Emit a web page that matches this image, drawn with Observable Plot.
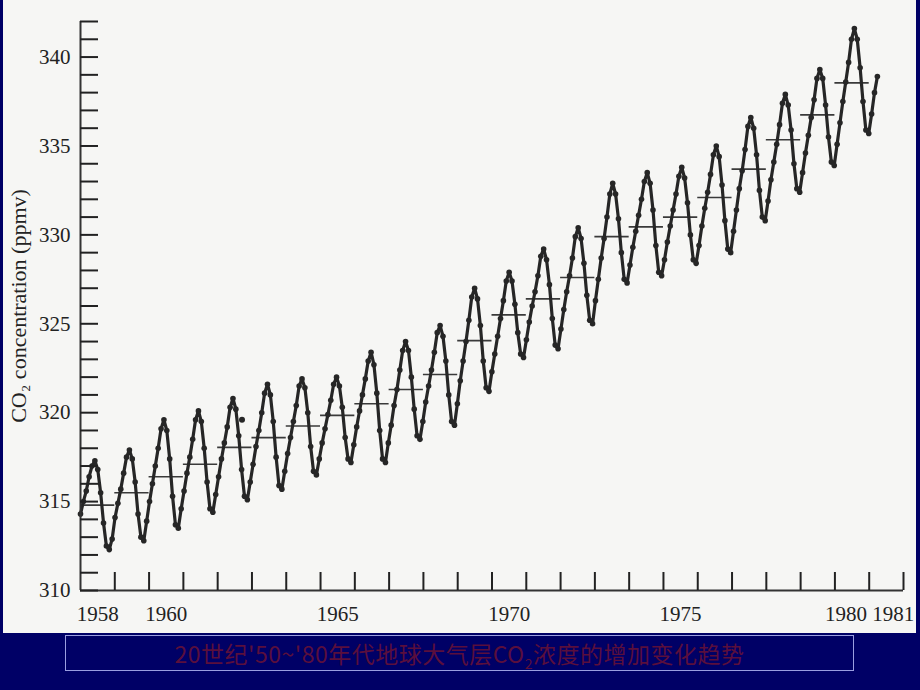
<!DOCTYPE html>
<html>
<head>
<meta charset="utf-8">
<script src="https://cdn.jsdelivr.net/npm/d3@7"></script>
<script src="https://cdn.jsdelivr.net/npm/@observablehq/plot@0.6"></script>
<style>
  html, body { margin: 0; padding: 0; background: #000066; width: 920px; height: 690px; overflow: hidden; }
  #stage { position: relative; width: 920px; height: 690px; }
  #panel { position: absolute; left: 3px; top: 0; width: 913px; height: 633px; background: #f6f6f4; }
  #chart { position: absolute; left: 0; top: 0; }
  #caption {
    position: absolute; left: 65px; top: 635px; width: 787px; height: 34px;
    border: 1.5px solid #9a9ee0; display: flex; align-items: center; justify-content: center;
    font-family: "Noto Sans CJK SC", sans-serif; font-size: 23px; color: #5a0f3c; letter-spacing: 0.5px;
  }
  #caption .sub { font-size: 14px; position: relative; top: 6px; }
</style>
</head>
<body>
<div id="stage">
  <div id="panel"></div>
  <div id="chart"></div>
  <div id="caption"><span>20世纪'50~'80年代地球大气层CO<span class="sub">2</span>浓度的增加变化趋势</span></div>
</div>
<script>
// ---- data ----
const startYear = 1958;
const monthStep = 1 / 11.92; // monthly spacing as drawn in the reference (years)
const co2Monthly = [
  [314.3, 315.0, 315.6, 316.4, 317.0, 317.3, 316.8, 315.5, 313.8, 312.5, 312.3, 312.9], // 1958
  [314.1, 314.9, 315.7, 316.6, 317.5, 317.9, 317.4, 316.1, 314.3, 313.0, 312.8, 313.9], // 1959
  [315.0, 316.0, 317.0, 318.0, 319.1, 319.6, 319.0, 317.4, 315.3, 313.7, 313.5, 314.6], // 1960
  [315.6, 316.6, 317.5, 318.5, 319.6, 320.1, 319.5, 318.0, 316.1, 314.6, 314.4, 315.4], // 1961
  [316.4, 317.4, 318.3, 319.2, 320.3, 320.8, 320.2, 318.7, 316.8, 315.3, 315.1, 316.1], // 1962
  [317.1, 318.1, 319.0, 320.0, 321.1, 321.6, 321.0, 319.5, 317.5, 315.9, 315.7, 316.7], // 1963
  [317.7, 318.6, 319.5, 320.4, 321.5, 321.9, 321.4, 320.0, 318.1, 316.7, 316.5, 317.4], // 1964
  [318.3, 319.1, 319.9, 320.7, 321.6, 322.0, 321.5, 320.3, 318.6, 317.4, 317.2, 318.2], // 1965
  [319.2, 320.1, 321.0, 321.9, 322.9, 323.4, 322.7, 321.1, 319.0, 317.4, 317.2, 318.3], // 1966
  [319.3, 320.4, 321.3, 322.4, 323.5, 324.0, 323.5, 322.0, 320.2, 318.7, 318.5, 319.5], // 1967
  [320.6, 321.5, 322.4, 323.4, 324.5, 324.9, 324.3, 322.9, 321.0, 319.5, 319.3, 320.5], // 1968
  [321.8, 322.9, 324.0, 325.2, 326.5, 327.0, 326.4, 324.9, 322.9, 321.4, 321.2, 322.3], // 1969
  [323.3, 324.3, 325.3, 326.3, 327.4, 327.9, 327.4, 326.1, 324.5, 323.3, 323.1, 324.1], // 1970
  [325.1, 326.0, 326.8, 327.7, 328.8, 329.2, 328.6, 327.2, 325.3, 323.8, 323.6, 324.7], // 1971
  [325.8, 326.8, 327.7, 328.7, 329.9, 330.4, 329.8, 328.4, 326.6, 325.2, 325.0, 326.3], // 1972
  [327.5, 328.7, 329.8, 331.0, 332.3, 332.9, 332.3, 330.9, 329.0, 327.5, 327.3, 328.3], // 1973
  [329.3, 330.2, 331.1, 332.0, 333.0, 333.5, 332.9, 331.4, 329.4, 327.9, 327.7, 328.6], // 1974
  [329.6, 330.5, 331.4, 332.3, 333.3, 333.8, 333.2, 331.8, 330.0, 328.6, 328.4, 329.4], // 1975
  [330.5, 331.5, 332.4, 333.4, 334.5, 335.0, 334.4, 332.8, 330.8, 329.2, 329.0, 330.2], // 1976
  [331.4, 332.6, 333.6, 334.8, 336.1, 336.6, 336.0, 334.5, 332.5, 331.0, 330.8, 331.9], // 1977
  [333.1, 334.1, 335.1, 336.2, 337.4, 337.9, 337.3, 335.9, 334.0, 332.6, 332.4, 333.5], // 1978
  [334.6, 335.6, 336.6, 337.6, 338.8, 339.3, 338.8, 337.3, 335.5, 334.1, 333.9, 335.1], // 1979
  [336.3, 337.5, 338.6, 339.7, 341.0, 341.6, 341.0, 339.4, 337.5, 335.9, 335.7, 336.8], // 1980
  [338.0, 338.9]                                                                          // 1981
];
const meanYears = [1958, 1959, 1960, 1961, 1962, 1963, 1964, 1965, 1966, 1967, 1968, 1969,
                   1970, 1971, 1972, 1973, 1974, 1975, 1976, 1977, 1978, 1979, 1980];
const annualMeans = [314.8, 315.5, 316.4, 317.1, 318.05, 318.6, 319.25, 319.85, 320.5, 321.3, 322.15, 324.05,
                     325.5, 326.4, 327.6, 329.9, 330.45, 331.0, 332.1, 333.7, 335.35, 336.75, 338.55];
const strayTimes = [1962.71];
const strayValues = [319.6];
const xDomain = [1958, 1982];
const yDomain = [310, 342];
const xTickYears = d3.range(1959, 1983);
const xLabelYears = [1958, 1960, 1965, 1970, 1975, 1980, 1981];
const yTickValues = d3.range(310, 343);
const yLabelValues = [310, 315, 320, 325, 330, 335, 340];
const yTitle = "CO\u2082 concentration (ppmv)";

// ---- tables built from the arrays ----
const monthly = co2Monthly.flatMap((vals, yi) =>
  vals.map((v, m) => ({t: startYear + (yi * 12 + m) * monthStep, v})));
const annual = meanYears.map((y, i) => ({start: y, end: y + 1, value: annualMeans[i]}));
const stray = strayTimes.map((t, i) => ({t, v: strayValues[i]}));

const ink = "#262626";
const textInk = "#222";
const chart = Plot.plot({
  width: 920,
  height: 633,
  marginLeft: 80,
  marginRight: 17,
  marginTop: 21,
  marginBottom: 43,
  x: {domain: xDomain, label: null},
  y: {domain: yDomain, label: null},
  style: {background: "transparent", fontFamily: '"Liberation Serif", serif', color: textInk, overflow: "visible"},
  marks: [
    Plot.ruleY(annual, {x1: "start", x2: "end", y: "value", stroke: "#3a3a3a", strokeWidth: 1.6}),
    Plot.line(monthly, {x: "t", y: "v", stroke: ink, strokeWidth: 3.2}),
    Plot.dot(monthly, {x: "t", y: "v", r: 2.8, fill: ink}),
    Plot.dot(stray, {x: "t", y: "v", r: 3, fill: ink}),
    Plot.ruleX([xDomain[0]], {stroke: "#333", strokeWidth: 2}),
    Plot.ruleY([yDomain[0]], {stroke: "#333", strokeWidth: 2}),
    Plot.axisY({ticks: yTickValues, tickSize: 18, dx: 18, tickFormat: () => "", strokeWidth: 2, label: null}),
    Plot.axisY({ticks: yLabelValues, tickSize: 0, tickPadding: 10, fontSize: 21, label: null}),
    Plot.axisX({ticks: xTickYears, tickSize: 18, dy: -18, tickFormat: () => "", strokeWidth: 2, label: null}),
    Plot.text(xLabelYears.filter(y => y < 1980), {x: d => d + 0.5, frameAnchor: "bottom", dy: 30, text: d => String(d), fontSize: 21, fill: textInk}),
    Plot.text(xLabelYears.filter(y => y === 1980), {x: d => d + 0.5, frameAnchor: "bottom", dy: 30, dx: -6, text: d => String(d), fontSize: 21, fill: textInk}),
    Plot.text(xLabelYears.filter(y => y === 1981), {x: d => d + 0.5, frameAnchor: "bottom", dy: 30, dx: 7, text: d => String(d), fontSize: 21, fill: textInk}),
    Plot.text([yTitle], {frameAnchor: "left", textAnchor: "middle", rotate: -90, dx: -62, text: d => d, fontSize: 22, fill: textInk})
  ]
});
document.getElementById("chart").appendChild(chart);
</script>
</body>
</html>
